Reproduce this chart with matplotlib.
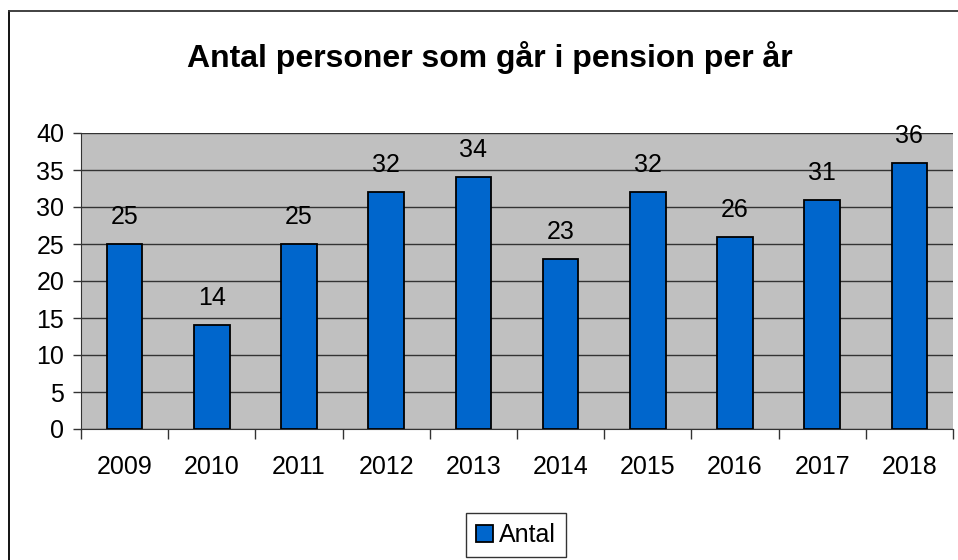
import matplotlib.pyplot as plt
from matplotlib.lines import Line2D

plt.rcParams['font.family'] = ['Liberation Sans', 'DejaVu Sans']

years = ['2009', '2010', '2011', '2012', '2013', '2014', '2015', '2016', '2017', '2018']
antal = [25, 14, 25, 32, 34, 23, 32, 26, 31, 36]

W, H = 958, 560
fig = plt.figure(figsize=(W / 100, H / 100), dpi=100)

# outer chart frame (left and top edges visible)
fig.add_artist(Line2D([8.5 / W, 8.5 / W], [0, 1 - 11 / H], color='black', lw=1.3,
                      transform=fig.transFigure))
fig.add_artist(Line2D([8.5 / W, 1], [1 - 11 / H, 1 - 11 / H], color='#333333', lw=1.3,
                      transform=fig.transFigure))

ax = fig.add_axes([81 / W, 1 - 429 / H, (953 - 81) / W, (429 - 133) / H])
ax.set_facecolor('#C0C0C0')

x = range(len(years))
bars = ax.bar(x, antal, width=0.41, color='#0066CC', edgecolor='black', linewidth=1.3,
              label='Antal', zorder=3)
for xi, v in zip(x, antal):
    ax.annotate(str(v), (xi, v), xytext=(0, 19.5), textcoords='offset points',
                ha='center', va='center', fontsize=18, annotation_clip=False)

ax.set_xlim(-0.5, len(years) - 0.5)
ax.set_ylim(0, 40)
ax.set_yticks(range(0, 41, 5))
ax.yaxis.grid(True, color='#333333', linewidth=1, zorder=1)
ax.set_axisbelow(True)
ax.tick_params(axis='y', labelsize=18, direction='out', length=6, width=1, color='#333333', pad=6)

ax.set_xticks(list(x))
ax.set_xticklabels(years, fontsize=18)
ax.tick_params(axis='x', length=0, pad=19)
ax.set_xticks([i + 0.5 for i in range(-1, len(years))], minor=True)
ax.tick_params(axis='x', which='minor', direction='out', length=7, width=1, color='#333333')

for s in ['top', 'right']:
    ax.spines[s].set_visible(False)
for s in ['left', 'bottom']:
    ax.spines[s].set_color('#333333')

fig.text(490 / W, 1 - 57 / H, 'Antal personer som går i pension per år', ha='center',
         va='center', fontsize=23, fontweight='bold')

leg = fig.legend(handles=[bars], labels=['Antal'], loc='center',
                 bbox_to_anchor=(516 / W, 1 - 535 / H), fontsize=18, fancybox=False,
                 edgecolor='black', handlelength=0.65, handleheight=0.65, handletextpad=0.25,
                 borderpad=0.4, borderaxespad=0)
leg.get_frame().set_linewidth(1)

fig.savefig('out.png', dpi=100)
